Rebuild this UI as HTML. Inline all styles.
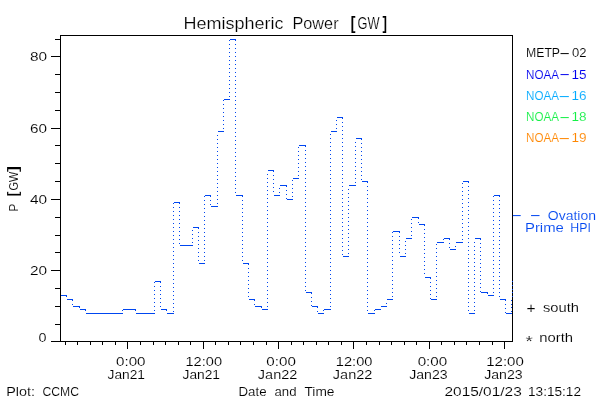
<!DOCTYPE html>
<html><head><meta charset="utf-8"><title>Hemispheric Power [GW]</title>
<style>
html,body{margin:0;padding:0;background:#fff;}
body{width:600px;height:400px;overflow:hidden;}
svg{display:block;}
text{font-family:"Liberation Sans",sans-serif;white-space:pre;stroke:#fff;stroke-width:0.12px;}
.T{stroke-width:0.2px;}
.H{stroke:none;}
.g path{shape-rendering:crispEdges;}
</style></head><body>
<svg width="600" height="400" viewBox="0 0 600 400">
<rect x="0" y="0" width="600" height="400" fill="#fff"/>
<g class="g">
<path fill="#000" d="M60 35h453v1h-453zM60 341h453v1h-453zM60 35h1v307h-1zM512 35h1v307h-1zM51 341h9v1h-9zM55 324h5v1h-5zM55 306h5v1h-5zM55 288h5v1h-5zM51 270h9v1h-9zM55 252h5v1h-5zM55 235h5v1h-5zM55 217h5v1h-5zM51 199h9v1h-9zM55 181h5v1h-5zM55 163h5v1h-5zM55 145h5v1h-5zM51 128h9v1h-9zM55 110h5v1h-5zM55 92h5v1h-5zM55 74h5v1h-5zM51 56h9v1h-9zM55 39h5v1h-5zM65 342h1v3h-1zM77 342h1v3h-1zM90 342h1v3h-1zM102 342h1v3h-1zM115 342h1v3h-1zM127 342h1v7h-1zM140 342h1v3h-1zM153 342h1v3h-1zM165 342h1v3h-1zM178 342h1v3h-1zM190 342h1v3h-1zM203 342h1v7h-1zM215 342h1v3h-1zM228 342h1v3h-1zM240 342h1v3h-1zM253 342h1v3h-1zM266 342h1v3h-1zM278 342h1v7h-1zM291 342h1v3h-1zM303 342h1v3h-1zM316 342h1v3h-1zM328 342h1v3h-1zM341 342h1v3h-1zM353 342h1v7h-1zM366 342h1v3h-1zM379 342h1v3h-1zM391 342h1v3h-1zM404 342h1v3h-1zM416 342h1v3h-1zM429 342h1v7h-1zM441 342h1v3h-1zM454 342h1v3h-1zM466 342h1v3h-1zM479 342h1v3h-1zM492 342h1v3h-1zM504 342h1v7h-1z"/>
<path fill="#0046F0" d="M61 295h6v1h-6zM66 296h1v1h-1zM67 299h6v1h-6zM72 300h1v1h-1zM72 304h1v1h-1zM73 306h7v1h-7zM79 307h1v1h-1zM80 309h6v1h-6zM85 310h1v1h-1zM86 313h6v1h-6zM92 313h6v1h-6zM98 313h7v1h-7zM105 313h6v1h-6zM111 313h6v1h-6zM117 313h6v1h-6zM122 310h1v1h-1zM123 309h7v1h-7zM130 309h6v1h-6zM135 310h1v1h-1zM136 313h6v1h-6zM142 313h7v1h-7zM149 313h6v1h-6zM154 310h1v1h-1zM154 306h1v1h-1zM154 302h1v1h-1zM154 298h1v1h-1zM154 294h1v1h-1zM154 290h1v1h-1zM154 286h1v1h-1zM154 282h1v1h-1zM155 281h6v1h-6zM160 282h1v1h-1zM160 286h1v1h-1zM160 290h1v1h-1zM160 294h1v1h-1zM160 298h1v1h-1zM160 302h1v1h-1zM160 306h1v1h-1zM161 309h6v1h-6zM166 310h1v1h-1zM167 313h7v1h-7zM173 311h1v1h-1zM173 307h1v1h-1zM173 303h1v1h-1zM173 299h1v1h-1zM173 295h1v1h-1zM173 291h1v1h-1zM173 287h1v1h-1zM173 283h1v1h-1zM173 279h1v1h-1zM173 275h1v1h-1zM173 271h1v1h-1zM173 267h1v1h-1zM173 263h1v1h-1zM173 259h1v1h-1zM173 255h1v1h-1zM173 251h1v1h-1zM173 247h1v1h-1zM173 243h1v1h-1zM173 239h1v1h-1zM173 235h1v1h-1zM173 231h1v1h-1zM173 227h1v1h-1zM173 223h1v1h-1zM173 219h1v1h-1zM173 215h1v1h-1zM173 211h1v1h-1zM173 207h1v1h-1zM173 203h1v1h-1zM174 202h6v1h-6zM179 203h1v1h-1zM179 207h1v1h-1zM179 211h1v1h-1zM179 215h1v1h-1zM179 219h1v1h-1zM179 223h1v1h-1zM179 227h1v1h-1zM179 231h1v1h-1zM179 235h1v1h-1zM179 239h1v1h-1zM179 243h1v1h-1zM180 245h6v1h-6zM186 245h7v1h-7zM192 242h1v1h-1zM192 238h1v1h-1zM192 234h1v1h-1zM192 230h1v1h-1zM193 227h6v1h-6zM198 228h1v1h-1zM198 232h1v1h-1zM198 236h1v1h-1zM198 240h1v1h-1zM198 244h1v1h-1zM198 248h1v1h-1zM198 252h1v1h-1zM198 256h1v1h-1zM198 260h1v1h-1zM199 263h6v1h-6zM204 260h1v1h-1zM204 256h1v1h-1zM204 252h1v1h-1zM204 248h1v1h-1zM204 244h1v1h-1zM204 240h1v1h-1zM204 236h1v1h-1zM204 232h1v1h-1zM204 228h1v1h-1zM204 224h1v1h-1zM204 220h1v1h-1zM204 216h1v1h-1zM204 212h1v1h-1zM204 208h1v1h-1zM204 204h1v1h-1zM204 200h1v1h-1zM204 196h1v1h-1zM205 195h6v1h-6zM210 196h1v1h-1zM210 200h1v1h-1zM210 204h1v1h-1zM211 206h7v1h-7zM217 203h1v1h-1zM217 199h1v1h-1zM217 195h1v1h-1zM217 191h1v1h-1zM217 187h1v1h-1zM217 183h1v1h-1zM217 179h1v1h-1zM217 175h1v1h-1zM217 171h1v1h-1zM217 167h1v1h-1zM217 163h1v1h-1zM217 159h1v1h-1zM217 155h1v1h-1zM217 151h1v1h-1zM217 147h1v1h-1zM217 143h1v1h-1zM217 139h1v1h-1zM217 135h1v1h-1zM218 131h6v1h-6zM223 128h1v1h-1zM223 124h1v1h-1zM223 120h1v1h-1zM223 116h1v1h-1zM223 112h1v1h-1zM223 108h1v1h-1zM223 104h1v1h-1zM223 100h1v1h-1zM224 99h6v1h-6zM229 96h1v1h-1zM229 92h1v1h-1zM229 88h1v1h-1zM229 84h1v1h-1zM229 80h1v1h-1zM229 76h1v1h-1zM229 72h1v1h-1zM229 68h1v1h-1zM229 64h1v1h-1zM229 60h1v1h-1zM229 56h1v1h-1zM229 52h1v1h-1zM229 48h1v1h-1zM229 44h1v1h-1zM229 40h1v1h-1zM230 39h6v1h-6zM235 40h1v1h-1zM235 44h1v1h-1zM235 48h1v1h-1zM235 52h1v1h-1zM235 56h1v1h-1zM235 60h1v1h-1zM235 64h1v1h-1zM235 68h1v1h-1zM235 72h1v1h-1zM235 76h1v1h-1zM235 80h1v1h-1zM235 84h1v1h-1zM235 88h1v1h-1zM235 92h1v1h-1zM235 96h1v1h-1zM235 100h1v1h-1zM235 104h1v1h-1zM235 108h1v1h-1zM235 112h1v1h-1zM235 116h1v1h-1zM235 120h1v1h-1zM235 124h1v1h-1zM235 128h1v1h-1zM235 132h1v1h-1zM235 136h1v1h-1zM235 140h1v1h-1zM235 144h1v1h-1zM235 148h1v1h-1zM235 152h1v1h-1zM235 156h1v1h-1zM235 160h1v1h-1zM235 164h1v1h-1zM235 168h1v1h-1zM235 172h1v1h-1zM235 176h1v1h-1zM235 180h1v1h-1zM235 184h1v1h-1zM235 188h1v1h-1zM235 192h1v1h-1zM236 195h7v1h-7zM242 196h1v1h-1zM242 200h1v1h-1zM242 204h1v1h-1zM242 208h1v1h-1zM242 212h1v1h-1zM242 216h1v1h-1zM242 220h1v1h-1zM242 224h1v1h-1zM242 228h1v1h-1zM242 232h1v1h-1zM242 236h1v1h-1zM242 240h1v1h-1zM242 244h1v1h-1zM242 248h1v1h-1zM242 252h1v1h-1zM242 256h1v1h-1zM242 260h1v1h-1zM243 263h6v1h-6zM248 264h1v1h-1zM248 268h1v1h-1zM248 272h1v1h-1zM248 276h1v1h-1zM248 280h1v1h-1zM248 284h1v1h-1zM248 288h1v1h-1zM248 292h1v1h-1zM248 296h1v1h-1zM249 299h6v1h-6zM254 300h1v1h-1zM254 304h1v1h-1zM255 306h7v1h-7zM261 307h1v1h-1zM262 309h6v1h-6zM267 306h1v1h-1zM267 302h1v1h-1zM267 298h1v1h-1zM267 294h1v1h-1zM267 290h1v1h-1zM267 286h1v1h-1zM267 282h1v1h-1zM267 278h1v1h-1zM267 274h1v1h-1zM267 270h1v1h-1zM267 266h1v1h-1zM267 262h1v1h-1zM267 258h1v1h-1zM267 254h1v1h-1zM267 250h1v1h-1zM267 246h1v1h-1zM267 242h1v1h-1zM267 238h1v1h-1zM267 234h1v1h-1zM267 230h1v1h-1zM267 226h1v1h-1zM267 222h1v1h-1zM267 218h1v1h-1zM267 214h1v1h-1zM267 210h1v1h-1zM267 206h1v1h-1zM267 202h1v1h-1zM267 198h1v1h-1zM267 194h1v1h-1zM267 190h1v1h-1zM267 186h1v1h-1zM267 182h1v1h-1zM267 178h1v1h-1zM267 174h1v1h-1zM268 170h6v1h-6zM273 171h1v1h-1zM273 175h1v1h-1zM273 179h1v1h-1zM273 183h1v1h-1zM273 187h1v1h-1zM273 191h1v1h-1zM274 195h6v1h-6zM279 192h1v1h-1zM279 188h1v1h-1zM280 185h7v1h-7zM286 186h1v1h-1zM286 190h1v1h-1zM286 194h1v1h-1zM286 198h1v1h-1zM287 199h6v1h-6zM292 196h1v1h-1zM292 192h1v1h-1zM292 188h1v1h-1zM292 184h1v1h-1zM292 180h1v1h-1zM293 178h6v1h-6zM298 175h1v1h-1zM298 171h1v1h-1zM298 167h1v1h-1zM298 163h1v1h-1zM298 159h1v1h-1zM298 155h1v1h-1zM298 151h1v1h-1zM298 147h1v1h-1zM299 145h7v1h-7zM305 146h1v1h-1zM305 150h1v1h-1zM305 154h1v1h-1zM305 158h1v1h-1zM305 162h1v1h-1zM305 166h1v1h-1zM305 170h1v1h-1zM305 174h1v1h-1zM305 178h1v1h-1zM305 182h1v1h-1zM305 186h1v1h-1zM305 190h1v1h-1zM305 194h1v1h-1zM305 198h1v1h-1zM305 202h1v1h-1zM305 206h1v1h-1zM305 210h1v1h-1zM305 214h1v1h-1zM305 218h1v1h-1zM305 222h1v1h-1zM305 226h1v1h-1zM305 230h1v1h-1zM305 234h1v1h-1zM305 238h1v1h-1zM305 242h1v1h-1zM305 246h1v1h-1zM305 250h1v1h-1zM305 254h1v1h-1zM305 258h1v1h-1zM305 262h1v1h-1zM305 266h1v1h-1zM305 270h1v1h-1zM305 274h1v1h-1zM305 278h1v1h-1zM305 282h1v1h-1zM305 286h1v1h-1zM305 290h1v1h-1zM306 292h6v1h-6zM311 293h1v1h-1zM311 297h1v1h-1zM311 301h1v1h-1zM311 305h1v1h-1zM312 306h6v1h-6zM317 307h1v1h-1zM317 311h1v1h-1zM318 313h6v1h-6zM323 310h1v1h-1zM324 309h7v1h-7zM330 306h1v1h-1zM330 302h1v1h-1zM330 298h1v1h-1zM330 294h1v1h-1zM330 290h1v1h-1zM330 286h1v1h-1zM330 282h1v1h-1zM330 278h1v1h-1zM330 274h1v1h-1zM330 270h1v1h-1zM330 266h1v1h-1zM330 262h1v1h-1zM330 258h1v1h-1zM330 254h1v1h-1zM330 250h1v1h-1zM330 246h1v1h-1zM330 242h1v1h-1zM330 238h1v1h-1zM330 234h1v1h-1zM330 230h1v1h-1zM330 226h1v1h-1zM330 222h1v1h-1zM330 218h1v1h-1zM330 214h1v1h-1zM330 210h1v1h-1zM330 206h1v1h-1zM330 202h1v1h-1zM330 198h1v1h-1zM330 194h1v1h-1zM330 190h1v1h-1zM330 186h1v1h-1zM330 182h1v1h-1zM330 178h1v1h-1zM330 174h1v1h-1zM330 170h1v1h-1zM330 166h1v1h-1zM330 162h1v1h-1zM330 158h1v1h-1zM330 154h1v1h-1zM330 150h1v1h-1zM330 146h1v1h-1zM330 142h1v1h-1zM330 138h1v1h-1zM330 134h1v1h-1zM331 131h6v1h-6zM336 128h1v1h-1zM336 124h1v1h-1zM336 120h1v1h-1zM337 117h6v1h-6zM342 118h1v1h-1zM342 122h1v1h-1zM342 126h1v1h-1zM342 130h1v1h-1zM342 134h1v1h-1zM342 138h1v1h-1zM342 142h1v1h-1zM342 146h1v1h-1zM342 150h1v1h-1zM342 154h1v1h-1zM342 158h1v1h-1zM342 162h1v1h-1zM342 166h1v1h-1zM342 170h1v1h-1zM342 174h1v1h-1zM342 178h1v1h-1zM342 182h1v1h-1zM342 186h1v1h-1zM342 190h1v1h-1zM342 194h1v1h-1zM342 198h1v1h-1zM342 202h1v1h-1zM342 206h1v1h-1zM342 210h1v1h-1zM342 214h1v1h-1zM342 218h1v1h-1zM342 222h1v1h-1zM342 226h1v1h-1zM342 230h1v1h-1zM342 234h1v1h-1zM342 238h1v1h-1zM342 242h1v1h-1zM342 246h1v1h-1zM342 250h1v1h-1zM342 254h1v1h-1zM343 256h6v1h-6zM348 253h1v1h-1zM348 249h1v1h-1zM348 245h1v1h-1zM348 241h1v1h-1zM348 237h1v1h-1zM348 233h1v1h-1zM348 229h1v1h-1zM348 225h1v1h-1zM348 221h1v1h-1zM348 217h1v1h-1zM348 213h1v1h-1zM348 209h1v1h-1zM348 205h1v1h-1zM348 201h1v1h-1zM348 197h1v1h-1zM348 193h1v1h-1zM348 189h1v1h-1zM349 185h7v1h-7zM355 182h1v1h-1zM355 178h1v1h-1zM355 174h1v1h-1zM355 170h1v1h-1zM355 166h1v1h-1zM355 162h1v1h-1zM355 158h1v1h-1zM355 154h1v1h-1zM355 150h1v1h-1zM355 146h1v1h-1zM355 142h1v1h-1zM356 138h6v1h-6zM361 139h1v1h-1zM361 143h1v1h-1zM361 147h1v1h-1zM361 151h1v1h-1zM361 155h1v1h-1zM361 159h1v1h-1zM361 163h1v1h-1zM361 167h1v1h-1zM361 171h1v1h-1zM361 175h1v1h-1zM361 179h1v1h-1zM362 181h6v1h-6zM367 182h1v1h-1zM367 186h1v1h-1zM367 190h1v1h-1zM367 194h1v1h-1zM367 198h1v1h-1zM367 202h1v1h-1zM367 206h1v1h-1zM367 210h1v1h-1zM367 214h1v1h-1zM367 218h1v1h-1zM367 222h1v1h-1zM367 226h1v1h-1zM367 230h1v1h-1zM367 234h1v1h-1zM367 238h1v1h-1zM367 242h1v1h-1zM367 246h1v1h-1zM367 250h1v1h-1zM367 254h1v1h-1zM367 258h1v1h-1zM367 262h1v1h-1zM367 266h1v1h-1zM367 270h1v1h-1zM367 274h1v1h-1zM367 278h1v1h-1zM367 282h1v1h-1zM367 286h1v1h-1zM367 290h1v1h-1zM367 294h1v1h-1zM367 298h1v1h-1zM367 302h1v1h-1zM367 306h1v1h-1zM367 310h1v1h-1zM368 313h7v1h-7zM374 310h1v1h-1zM375 309h6v1h-6zM381 306h6v1h-6zM386 303h1v1h-1zM387 299h6v1h-6zM392 296h1v1h-1zM392 292h1v1h-1zM392 288h1v1h-1zM392 284h1v1h-1zM392 280h1v1h-1zM392 276h1v1h-1zM392 272h1v1h-1zM392 268h1v1h-1zM392 264h1v1h-1zM392 260h1v1h-1zM392 256h1v1h-1zM392 252h1v1h-1zM392 248h1v1h-1zM392 244h1v1h-1zM392 240h1v1h-1zM392 236h1v1h-1zM392 232h1v1h-1zM393 231h7v1h-7zM399 232h1v1h-1zM399 236h1v1h-1zM399 240h1v1h-1zM399 244h1v1h-1zM399 248h1v1h-1zM399 252h1v1h-1zM400 256h6v1h-6zM405 253h1v1h-1zM405 249h1v1h-1zM405 245h1v1h-1zM405 241h1v1h-1zM406 238h6v1h-6zM411 235h1v1h-1zM411 231h1v1h-1zM411 227h1v1h-1zM411 223h1v1h-1zM411 219h1v1h-1zM412 217h7v1h-7zM418 218h1v1h-1zM418 222h1v1h-1zM419 224h6v1h-6zM424 225h1v1h-1zM424 229h1v1h-1zM424 233h1v1h-1zM424 237h1v1h-1zM424 241h1v1h-1zM424 245h1v1h-1zM424 249h1v1h-1zM424 253h1v1h-1zM424 257h1v1h-1zM424 261h1v1h-1zM424 265h1v1h-1zM424 269h1v1h-1zM424 273h1v1h-1zM425 277h6v1h-6zM430 278h1v1h-1zM430 282h1v1h-1zM430 286h1v1h-1zM430 290h1v1h-1zM430 294h1v1h-1zM430 298h1v1h-1zM431 299h6v1h-6zM436 296h1v1h-1zM436 292h1v1h-1zM436 288h1v1h-1zM436 284h1v1h-1zM436 280h1v1h-1zM436 276h1v1h-1zM436 272h1v1h-1zM436 268h1v1h-1zM436 264h1v1h-1zM436 260h1v1h-1zM436 256h1v1h-1zM436 252h1v1h-1zM436 248h1v1h-1zM436 244h1v1h-1zM437 242h7v1h-7zM443 239h1v1h-1zM444 238h6v1h-6zM449 239h1v1h-1zM449 243h1v1h-1zM449 247h1v1h-1zM450 249h6v1h-6zM455 246h1v1h-1zM456 242h7v1h-7zM462 239h1v1h-1zM462 235h1v1h-1zM462 231h1v1h-1zM462 227h1v1h-1zM462 223h1v1h-1zM462 219h1v1h-1zM462 215h1v1h-1zM462 211h1v1h-1zM462 207h1v1h-1zM462 203h1v1h-1zM462 199h1v1h-1zM462 195h1v1h-1zM462 191h1v1h-1zM462 187h1v1h-1zM462 183h1v1h-1zM463 181h6v1h-6zM468 182h1v1h-1zM468 186h1v1h-1zM468 190h1v1h-1zM468 194h1v1h-1zM468 198h1v1h-1zM468 202h1v1h-1zM468 206h1v1h-1zM468 210h1v1h-1zM468 214h1v1h-1zM468 218h1v1h-1zM468 222h1v1h-1zM468 226h1v1h-1zM468 230h1v1h-1zM468 234h1v1h-1zM468 238h1v1h-1zM468 242h1v1h-1zM468 246h1v1h-1zM468 250h1v1h-1zM468 254h1v1h-1zM468 258h1v1h-1zM468 262h1v1h-1zM468 266h1v1h-1zM468 270h1v1h-1zM468 274h1v1h-1zM468 278h1v1h-1zM468 282h1v1h-1zM468 286h1v1h-1zM468 290h1v1h-1zM468 294h1v1h-1zM468 298h1v1h-1zM468 302h1v1h-1zM468 306h1v1h-1zM468 310h1v1h-1zM469 313h6v1h-6zM474 310h1v1h-1zM474 306h1v1h-1zM474 302h1v1h-1zM474 298h1v1h-1zM474 294h1v1h-1zM474 290h1v1h-1zM474 286h1v1h-1zM474 282h1v1h-1zM474 278h1v1h-1zM474 274h1v1h-1zM474 270h1v1h-1zM474 266h1v1h-1zM474 262h1v1h-1zM474 258h1v1h-1zM474 254h1v1h-1zM474 250h1v1h-1zM474 246h1v1h-1zM474 242h1v1h-1zM475 238h6v1h-6zM480 239h1v1h-1zM480 243h1v1h-1zM480 247h1v1h-1zM480 251h1v1h-1zM480 255h1v1h-1zM480 259h1v1h-1zM480 263h1v1h-1zM480 267h1v1h-1zM480 271h1v1h-1zM480 275h1v1h-1zM480 279h1v1h-1zM480 283h1v1h-1zM480 287h1v1h-1zM480 291h1v1h-1zM481 292h7v1h-7zM487 293h1v1h-1zM488 295h6v1h-6zM493 292h1v1h-1zM493 288h1v1h-1zM493 284h1v1h-1zM493 280h1v1h-1zM493 276h1v1h-1zM493 272h1v1h-1zM493 268h1v1h-1zM493 264h1v1h-1zM493 260h1v1h-1zM493 256h1v1h-1zM493 252h1v1h-1zM493 248h1v1h-1zM493 244h1v1h-1zM493 240h1v1h-1zM493 236h1v1h-1zM493 232h1v1h-1zM493 228h1v1h-1zM493 224h1v1h-1zM493 220h1v1h-1zM493 216h1v1h-1zM493 212h1v1h-1zM493 208h1v1h-1zM493 204h1v1h-1zM493 200h1v1h-1zM493 196h1v1h-1zM494 195h6v1h-6zM499 196h1v1h-1zM499 200h1v1h-1zM499 204h1v1h-1zM499 208h1v1h-1zM499 212h1v1h-1zM499 216h1v1h-1zM499 220h1v1h-1zM499 224h1v1h-1zM499 228h1v1h-1zM499 232h1v1h-1zM499 236h1v1h-1zM499 240h1v1h-1zM499 244h1v1h-1zM499 248h1v1h-1zM499 252h1v1h-1zM499 256h1v1h-1zM499 260h1v1h-1zM499 264h1v1h-1zM499 268h1v1h-1zM499 272h1v1h-1zM499 276h1v1h-1zM499 280h1v1h-1zM499 284h1v1h-1zM499 288h1v1h-1zM499 292h1v1h-1zM499 296h1v1h-1zM500 299h6v1h-6zM505 300h1v1h-1zM505 304h1v1h-1zM505 308h1v1h-1zM505 312h1v1h-1zM506 313h6v1h-6zM511 311h1v1h-1zM511 307h1v1h-1zM511 304h1v1h-1zM511 300h1v1h-1zM512 296h1v1h-1zM512 292h1v1h-1zM512 289h1v1h-1zM512 285h1v1h-1zM512 281h1v1h-1z"/>
</g>
<g>
<text fill="#000"><tspan x="183.50" y="29.00" font-size="16" class="T" textLength="100.02" lengthAdjust="spacingAndGlyphs">Hemispheric</tspan> <tspan x="292.50" y="29.00" font-size="16" class="T" textLength="46.05" lengthAdjust="spacingAndGlyphs">Power</tspan> <tspan x="350.50" y="28.60" font-size="18.6" font-weight="bold" textLength="5.00" lengthAdjust="spacingAndGlyphs">[</tspan><tspan x="357.50" y="29.00" font-size="16" class="T" textLength="22.00" lengthAdjust="spacingAndGlyphs">GW</tspan><tspan x="382.50" y="28.60" font-size="18.6" font-weight="bold" textLength="4.51" lengthAdjust="spacingAndGlyphs">]</tspan></text>
<text fill="#000" transform="translate(18.30,0) rotate(-90)"><tspan x="-211.50" y="0" font-size="12.5" textLength="8.00" lengthAdjust="spacingAndGlyphs">P</tspan> <tspan x="-196.50" y="0" font-size="15.3" font-weight="bold" textLength="5.06" lengthAdjust="spacingAndGlyphs">[</tspan><tspan x="-190.50" y="0" font-size="12.5" textLength="19.00" lengthAdjust="spacingAndGlyphs">GW</tspan><tspan x="-172.00" y="0" font-size="15.3" font-weight="bold" textLength="6.16" lengthAdjust="spacingAndGlyphs">]</tspan></text>
<text fill="#000"><tspan x="30.00" y="61.00" font-size="12.5" textLength="17.13" lengthAdjust="spacingAndGlyphs">80</tspan></text>
<text fill="#000"><tspan x="30.00" y="133.00" font-size="12.5" textLength="17.00" lengthAdjust="spacingAndGlyphs">60</tspan></text>
<text fill="#000"><tspan x="30.00" y="204.00" font-size="12.5" textLength="17.13" lengthAdjust="spacingAndGlyphs">40</tspan></text>
<text fill="#000"><tspan x="30.00" y="275.00" font-size="12.5" textLength="17.13" lengthAdjust="spacingAndGlyphs">20</tspan></text>
<text fill="#000"><tspan x="38.50" y="342.00" font-size="12.5" textLength="8.00" lengthAdjust="spacingAndGlyphs">0</tspan></text>
<text fill="#000"><tspan x="116.00" y="366.00" font-size="12.5" textLength="29.51" lengthAdjust="spacingAndGlyphs">0:00</tspan></text>
<text fill="#000"><tspan x="107.50" y="379.00" font-size="12.5" textLength="37.51" lengthAdjust="spacingAndGlyphs">Jan21</tspan></text>
<text fill="#000"><tspan x="185.50" y="366.00" font-size="12.5" textLength="36.51" lengthAdjust="spacingAndGlyphs">12:00</tspan></text>
<text fill="#000"><tspan x="182.50" y="379.00" font-size="12.5" textLength="37.51" lengthAdjust="spacingAndGlyphs">Jan21</tspan></text>
<text fill="#000"><tspan x="266.35" y="366.00" font-size="12.5" textLength="29.51" lengthAdjust="spacingAndGlyphs">0:00</tspan></text>
<text fill="#000"><tspan x="257.85" y="379.00" font-size="12.5" textLength="39.52" lengthAdjust="spacingAndGlyphs">Jan22</tspan></text>
<text fill="#000"><tspan x="335.85" y="366.00" font-size="12.5" textLength="36.54" lengthAdjust="spacingAndGlyphs">12:00</tspan></text>
<text fill="#000"><tspan x="332.85" y="379.00" font-size="12.5" textLength="39.52" lengthAdjust="spacingAndGlyphs">Jan22</tspan></text>
<text fill="#000"><tspan x="417.70" y="366.00" font-size="12.5" textLength="29.54" lengthAdjust="spacingAndGlyphs">0:00</tspan></text>
<text fill="#000"><tspan x="409.20" y="379.00" font-size="12.5" textLength="38.50" lengthAdjust="spacingAndGlyphs">Jan23</tspan></text>
<text fill="#000"><tspan x="486.20" y="366.00" font-size="12.5" textLength="37.59" lengthAdjust="spacingAndGlyphs">12:00</tspan></text>
<text fill="#000"><tspan x="484.20" y="379.00" font-size="12.5" textLength="38.50" lengthAdjust="spacingAndGlyphs">Jan23</tspan></text>
<text fill="#000"><tspan x="6.25" y="395.50" font-size="12.5" textLength="28.80" lengthAdjust="spacingAndGlyphs">Plot:</tspan> <tspan x="42.50" y="395.50" font-size="12.5" textLength="36.49" lengthAdjust="spacingAndGlyphs">CCMC</tspan></text>
<text fill="#000"><tspan x="238.50" y="395.50" font-size="12.5" textLength="28.01" lengthAdjust="spacingAndGlyphs">Date</tspan> <tspan x="274.50" y="395.50" font-size="12.5" textLength="22.00" lengthAdjust="spacingAndGlyphs">and</tspan> <tspan x="304.50" y="395.50" font-size="12.5" textLength="30.00" lengthAdjust="spacingAndGlyphs">Time</tspan></text>
<text fill="#000"><tspan x="444.50" y="396.00" font-size="12.5" textLength="77.25" lengthAdjust="spacingAndGlyphs">2015/01/23</tspan> <tspan x="528.00" y="396.00" font-size="12.5" textLength="53.00" lengthAdjust="spacingAndGlyphs">13:15:12</tspan></text>
<text fill="#000"><tspan x="526.00" y="57.20" font-size="12.5" textLength="34.04" lengthAdjust="spacingAndGlyphs">METP</tspan><tspan x="559.00" y="57.00" font-size="12.5" class="H" textLength="11.28" lengthAdjust="spacingAndGlyphs">-</tspan><tspan x="572.00" y="57.20" font-size="12.5" textLength="14.51" lengthAdjust="spacingAndGlyphs">02</tspan></text>
<text fill="#0000EE"><tspan x="526.00" y="78.50" font-size="12.5" textLength="33.01" lengthAdjust="spacingAndGlyphs">NOAA</tspan><tspan x="559.00" y="78.00" font-size="12.5" class="H" textLength="11.28" lengthAdjust="spacingAndGlyphs">-</tspan><tspan x="571.50" y="78.50" font-size="12.5" textLength="15.09" lengthAdjust="spacingAndGlyphs">15</tspan></text>
<text fill="#00AAFF"><tspan x="526.00" y="99.70" font-size="12.5" textLength="33.01" lengthAdjust="spacingAndGlyphs">NOAA</tspan><tspan x="558.00" y="100.00" font-size="12.5" class="H" textLength="12.53" lengthAdjust="spacingAndGlyphs">-</tspan><tspan x="571.50" y="99.70" font-size="12.5" textLength="15.09" lengthAdjust="spacingAndGlyphs">16</tspan></text>
<text fill="#14F046"><tspan x="526.00" y="121.00" font-size="12.5" textLength="33.01" lengthAdjust="spacingAndGlyphs">NOAA</tspan><tspan x="559.00" y="121.00" font-size="12.5" class="H" textLength="11.28" lengthAdjust="spacingAndGlyphs">-</tspan><tspan x="571.50" y="121.00" font-size="12.5" textLength="15.09" lengthAdjust="spacingAndGlyphs">18</tspan></text>
<text fill="#FF8700"><tspan x="526.00" y="142.20" font-size="12.5" textLength="33.01" lengthAdjust="spacingAndGlyphs">NOAA</tspan><tspan x="558.00" y="142.00" font-size="12.5" class="H" textLength="12.53" lengthAdjust="spacingAndGlyphs">-</tspan><tspan x="571.50" y="142.20" font-size="12.5" textLength="15.09" lengthAdjust="spacingAndGlyphs">19</tspan></text>
<text fill="#0046F0"><tspan x="511.50" y="219.00" font-size="12.5" class="H" textLength="10.63" lengthAdjust="spacingAndGlyphs">-</tspan> <tspan x="529.50" y="219.00" font-size="12.5" class="H" textLength="11.57" lengthAdjust="spacingAndGlyphs">-</tspan> <tspan x="547.75" y="219.50" font-size="12.5" textLength="48.26" lengthAdjust="spacingAndGlyphs">Ovation</tspan></text>
<text fill="#0046F0"><tspan x="525.00" y="231.70" font-size="12.5" textLength="38.84" lengthAdjust="spacingAndGlyphs">Prime</tspan> <tspan x="570.25" y="231.70" font-size="12.5" textLength="20.58" lengthAdjust="spacingAndGlyphs">HPI</tspan></text>
<text fill="#000"><tspan x="526.50" y="313.00" font-size="15.5" textLength="9.09" lengthAdjust="spacingAndGlyphs">+</tspan> <tspan x="543.00" y="312.00" font-size="12.5" textLength="36.05" lengthAdjust="spacingAndGlyphs">south</tspan></text>
<text fill="#000"><tspan x="525.50" y="346.20" font-size="15.5" textLength="7.31" lengthAdjust="spacingAndGlyphs">*</tspan> <tspan x="539.25" y="342.30" font-size="12.5" textLength="33.80" lengthAdjust="spacingAndGlyphs">north</tspan></text>
</g>
</svg>
</body></html>
